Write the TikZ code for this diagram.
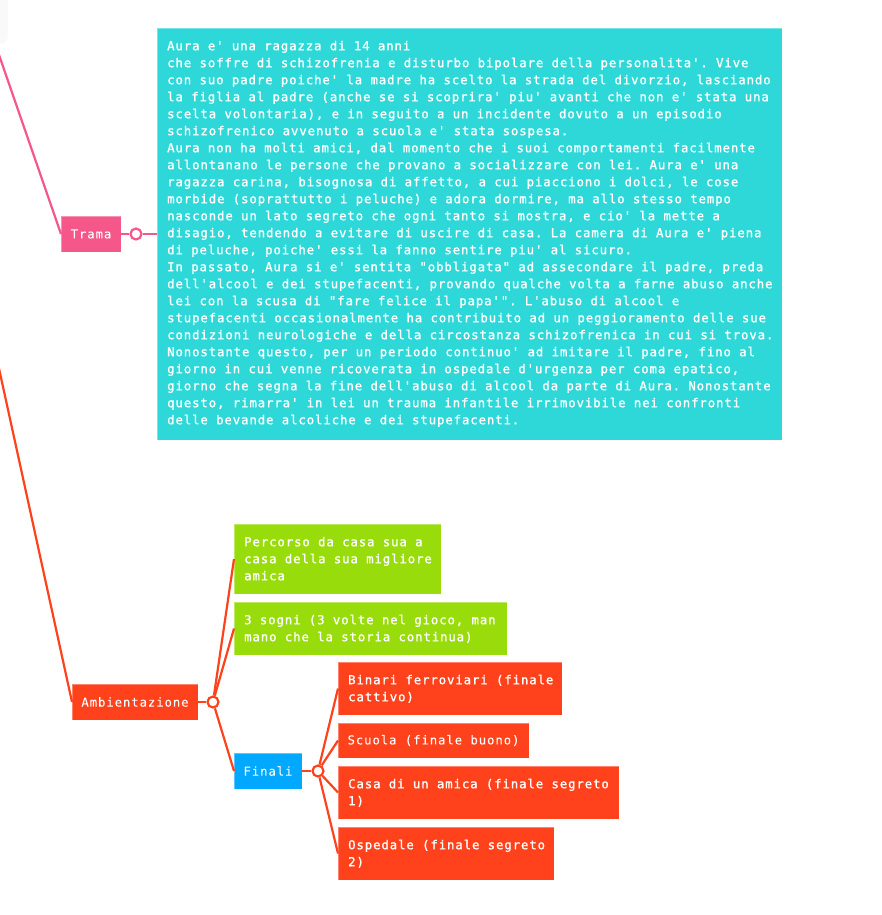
\documentclass[tikz,border=0pt]{standalone}
\usepackage{fontspec}
\setmonofont{DejaVu Sans Mono}[LetterSpace=7.4,FakeBold=1.2]
\usetikzlibrary{calc}
\definecolor{pinkc}{HTML}{F5578A}
\definecolor{cyanc}{HTML}{2ED8D8}
\definecolor{redc}{HTML}{FF421B}
\definecolor{greenc}{HTML}{98DC0B}
\definecolor{bluec}{HTML}{00A8FF}
\definecolor{rootc}{HTML}{F9F9F9}
\begin{document}
\begin{tikzpicture}[x=1pt,y=-1pt,
  mfont/.style={font=\ttfamily\frenchspacing\fontsize{12.3}{17}\selectfont},
  box/.style={rectangle, anchor=north west, inner sep=0pt, outer sep=0pt,
    draw=white, draw opacity=0.35, line width=0.8pt, text=white, mfont},
  txt/.style={anchor=north west, inner sep=0pt, align=left, text=white, mfont},
  hub/.style={circle, draw=#1, fill=white, line width=2.2pt, minimum size=11pt, inner sep=0pt},
  conn/.style={draw=#1, line width=2.2pt}]
\useasboundingbox (0,0) rectangle (881,915);
\clip (0,0) rectangle (881,915);

% faint root node edge
\fill[rootc, rounded corners=8pt] (-40,-10) rectangle (8,44);
\coordinate (rootp) at (-20,0);
\coordinate (rootr) at (-16,300);

% boxes
\node[box, fill=cyanc, minimum width=625pt, minimum height=412pt] (tb) at (157,28) {};
\node[box, fill=pinkc, minimum width=60pt, minimum height=36pt] (trama) at (61,216) {Trama};
\node[box, fill=redc, minimum width=126pt, minimum height=36pt] (amb) at (72,684) {Ambientazione};
\node[box, fill=greenc, minimum width=207pt, minimum height=70pt] (g1) at (234,524) {};
\node[box, fill=greenc, minimum width=273pt, minimum height=53pt] (g2) at (234,602) {};
\node[box, fill=bluec, minimum width=68pt, minimum height=36pt] (fin) at (234,753) {Finali};
\node[box, fill=redc, minimum width=224pt, minimum height=53pt] (r1) at (338,662) {};
\node[box, fill=redc, minimum width=191pt, minimum height=35pt] (r2) at (338,723) {Scuola (finale buono)};
\node[box, fill=redc, minimum width=281pt, minimum height=53pt] (r3) at (338,766) {};
\node[box, fill=redc, minimum width=216pt, minimum height=53pt] (r4) at (338,827) {};

% texts
\node[txt] (tbt) at ($(tb.north west)+(10,10)$) {\rule{0pt}{12pt}Aura e' una ragazza di 14 anni\\
che soffre di schizofrenia e disturbo bipolare della personalita'. Vive\\
con suo padre poiche' la madre ha scelto la strada del divorzio, lasciando\\
la figlia al padre (anche se si scoprira' piu' avanti che non e' stata una\\
scelta volontaria), e in seguito a un incidente dovuto a un episodio\\
schizofrenico avvenuto a scuola e' stata sospesa.\\
Aura non ha molti amici, dal momento che i suoi comportamenti facilmente\\
allontanano le persone che provano a socializzare con lei. Aura e' una\\
ragazza carina, bisognosa di affetto, a cui piacciono i dolci, le cose\\
morbide (soprattutto i peluche) e adora dormire, ma allo stesso tempo\\
nasconde un lato segreto che ogni tanto si mostra, e cio' la mette a\\
disagio, tendendo a evitare di uscire di casa. La camera di Aura e' piena\\
di peluche, poiche' essi la fanno sentire piu' al sicuro.\\
In passato, Aura si e' sentita "obbligata" ad assecondare il padre, preda\\
dell'alcool e dei stupefacenti, provando qualche volta a farne abuso anche\\
lei con la scusa di "fare felice il papa'". L'abuso di alcool e\\
stupefacenti occasionalmente ha contribuito ad un peggioramento delle sue\\
condizioni neurologiche e della circostanza schizofrenica in cui si trova.\\
Nonostante questo, per un periodo continuo' ad imitare il padre, fino al\\
giorno in cui venne ricoverata in ospedale d'urgenza per coma epatico,\\
giorno che segna la fine dell'abuso di alcool da parte di Aura. Nonostante\\
questo, rimarra' in lei un trauma infantile irrimovibile nei confronti\\
delle bevande alcoliche e dei stupefacenti.};
\node[txt] (g1t) at ($(g1.north west)+(10,10)$) {\rule{0pt}{12pt}Percorso da casa sua a\\casa della sua migliore\\amica};
\node[txt] (g2t) at ($(g2.north west)+(10,10)$) {\rule{0pt}{12pt}3 sogni (3 volte nel gioco, man\\mano che la storia continua)};
\node[txt] (r1t) at ($(r1.north west)+(10,10)$) {\rule{0pt}{12pt}Binari ferroviari (finale\\cattivo)};
\node[txt] (r3t) at ($(r3.north west)+(10,10)$) {\rule{0pt}{12pt}Casa di un amica (finale segreto\\1)};
\node[txt] (r4t) at ($(r4.north west)+(10,10)$) {\rule{0pt}{12pt}Ospedale (finale segreto\\2)};

% hubs
\node[hub=pinkc] (h1) at (136,234) {};
\node[hub=redc] (h2) at (213,702) {};
\node[hub=redc] (h3) at (318,771) {};

% connectors
\draw[conn=pinkc] (rootp) -- (trama.west);
\draw[conn=redc] (rootr) -- (amb.west);
\draw[conn=pinkc] (trama.east) -- (h1) -- (tb.west);
\draw[conn=redc] (amb.east) -- (h2);
\draw[conn=redc] (h2) -- (g1.west);
\draw[conn=redc] (h2) -- (g2.west);
\draw[conn=redc] (h2) -- (fin.west);
\draw[conn=redc] (fin.east) -- (h3);
\draw[conn=redc] (h3) -- (r1.west);
\draw[conn=redc] (h3) -- (r2.west);
\draw[conn=redc] (h3) -- (r3.west);
\draw[conn=redc] (h3) -- (r4.west);
\end{tikzpicture}
\end{document}
